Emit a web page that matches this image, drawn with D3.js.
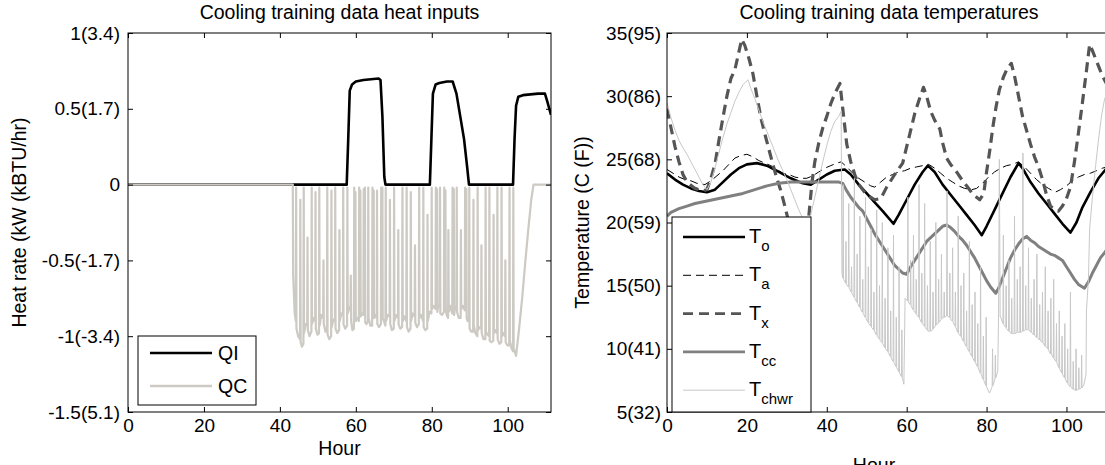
<!DOCTYPE html>
<html>
<head>
<meta charset="utf-8">
<script src="https://cdn.jsdelivr.net/npm/d3@7"></script>
<style>
  body { margin: 0; background: #fff; }
  svg { display: block; }
</style>
</head>
<body>
<svg id="chart" width="1105" height="465"></svg>
<script>
// ---- data ----
const hourTicks = [0, 20, 40, 60, 80, 100];
const heatTicks = [1, 0.5, 0, -0.5, -1, -1.5];
const heatTickLabels = ["1(3.4)", "0.5(1.7)", "0", "-0.5(-1.7)", "-1(-3.4)", "-1.5(5.1)"];
const tempTicks = [35, 30, 25, 20, 15, 10, 5];
const tempTickLabels = ["35(95)", "30(86)", "25(68)", "20(59)", "15(50)", "10(41)", "5(32)"];

// heat inputs, [hour, kW]
const qiData = [
  [0, 0], [57.6, 0], [58.0, 0.3], [58.4, 0.62], [59.0, 0.66], [60, 0.68], [62, 0.69], [64, 0.695],
  [66, 0.7], [66.5, 0.69], [67.0, 0.45], [67.5, 0.05], [67.8, 0], [79.5, 0], [79.9, 0.3], [80.3, 0.6],
  [81.0, 0.66], [82, 0.67], [84, 0.68], [85.5, 0.68], [86.5, 0.6], [87.5, 0.45], [88.5, 0.3],
  [89.3, 0.12], [89.8, 0], [101.4, 0], [101.8, 0.3], [102.2, 0.52], [102.8, 0.58], [104, 0.59],
  [106, 0.595], [108, 0.6], [109.8, 0.6], [110.4, 0.55], [111.4, 0.46]
];
const qcData = [
  [0, 0], [43.4, 0], [43.5, -0.6], [43.9, -0.85],
  [44.2, -0.9], [44.28, -0.02], [44.36, -0.95], [44.8, -1.0], [45.3, -1.02], [45.38, -0.1], [45.46, -1.04],
  [45.8, -1.07], [46.2, -1.05], [46.28, -0.02], [46.36, -0.98], [46.8, -0.92], [47.2, -0.93], [47.28, -0.35],
  [47.36, -0.96], [47.8, -1.0], [48.3, -0.97], [48.38, -0.02], [48.46, -0.92], [48.9, -0.88], [49.3, -0.9],
  [49.38, -0.05], [49.46, -0.95], [49.9, -0.99], [50.3, -0.98], [50.38, -0.02], [50.46, -0.93], [50.9, -0.86],
  [51.4, -0.88], [51.48, -0.5], [51.56, -0.92], [52.0, -0.97], [52.4, -0.95], [52.48, -0.02], [52.56, -0.99],
  [53.0, -1.02], [53.5, -1.0], [53.58, -0.04], [53.66, -0.94], [54.1, -0.89], [54.5, -0.9], [54.58, -0.02],
  [54.66, -0.95], [55.1, -0.98], [55.6, -0.96], [55.68, -0.3], [55.76, -0.9], [56.2, -0.85], [56.6, -0.86],
  [56.68, -0.02], [56.76, -0.92], [57.2, -0.95], [57.7, -0.93], [57.78, -0.02], [57.86, -0.85], [58.2, -0.82],
  [58.6, -0.8], [58.68, -0.6], [58.76, -0.9], [59.1, -0.96], [59.5, -0.95], [59.58, -0.02], [59.75, -0.3],
  [59.9, -0.05], [59.98, -0.9], [60.4, -0.88], [60.8, -0.9], [60.88, -0.02], [61.05, -0.32], [61.2, -0.04],
  [61.28, -0.87], [61.6, -0.85], [62.0, -0.86], [62.08, -0.03], [62.25, -0.3], [62.4, -0.02], [62.48, -0.91],
  [62.8, -0.92], [63.2, -0.9], [63.28, -0.02], [63.36, -0.88], [63.8, -0.93], [64.3, -0.93], [64.38, -0.02],
  [64.55, -0.35], [64.7, -0.04], [64.78, -0.88], [65.1, -0.86], [65.5, -0.88], [65.58, -0.04], [65.66, -0.92],
  [66.1, -0.94], [66.6, -0.92], [66.68, -0.02], [66.85, -0.3], [67.0, -0.02], [67.08, -0.88], [67.4, -0.9],
  [67.8, -0.93], [67.88, -0.02], [67.96, -0.9], [68.4, -0.86], [68.9, -0.87], [68.98, -0.1], [69.06, -0.92],
  [69.5, -0.96], [70.0, -0.95], [70.08, -0.02], [70.16, -0.9], [70.6, -0.86], [71.1, -0.88], [71.18, -0.3],
  [71.26, -0.92], [71.7, -0.95], [72.2, -0.94], [72.28, -0.02], [72.36, -0.9], [72.8, -0.87], [73.3, -0.9],
  [73.38, -0.02], [73.46, -0.94], [73.9, -0.97], [74.4, -0.95], [74.48, -0.05], [74.56, -0.9], [75.0, -0.85],
  [75.5, -0.87], [75.58, -0.4], [75.66, -0.91], [76.1, -0.94], [76.6, -0.92], [76.68, -0.02], [76.76, -0.88],
  [77.2, -0.86], [77.7, -0.9], [77.78, -0.02], [77.86, -0.94], [78.3, -0.96], [78.8, -0.95], [78.88, -0.2],
  [78.96, -0.9], [79.4, -0.84], [79.9, -0.85], [79.98, -0.02], [80.06, -0.82], [80.5, -0.8], [81.0, -0.82],
  [81.08, -0.02], [81.25, -0.3], [81.4, -0.03], [81.48, -0.84], [81.7, -0.8], [82.1, -0.8], [82.18, -0.02],
  [82.26, -0.85], [82.7, -0.86], [83.2, -0.84], [83.28, -0.02], [83.45, -0.3], [83.6, -0.04], [83.68, -0.82],
  [83.9, -0.86], [84.3, -0.88], [84.38, -0.3], [84.46, -0.84], [84.9, -0.8], [85.4, -0.85], [85.48, -0.02],
  [85.65, -0.32], [85.8, -0.03], [85.88, -0.86], [86.1, -0.82], [86.5, -0.8], [86.58, -0.02], [86.66, -0.84],
  [87.1, -0.88], [87.6, -0.88], [87.68, -0.3], [87.76, -0.82], [88.2, -0.8], [88.7, -0.83], [88.78, -0.02],
  [88.95, -0.3], [89.1, -0.03], [89.18, -0.88], [89.4, -0.9], [89.8, -0.9], [89.88, -0.02], [89.96, -0.95],
  [90.4, -0.97], [90.9, -0.97], [90.98, -0.1], [91.06, -0.93], [91.5, -0.98], [92.0, -1.0], [92.08, -0.02],
  [92.16, -0.96], [92.6, -0.94], [93.0, -0.95], [93.08, -0.4], [93.16, -0.98], [93.6, -1.02], [94.1, -1.02],
  [94.18, -0.02], [94.26, -0.97], [94.7, -0.99], [95.1, -1.0], [95.18, -0.02], [95.26, -1.03], [95.7, -1.04],
  [96.2, -1.03], [96.28, -0.2], [96.36, -0.98], [96.8, -0.96], [97.2, -0.98], [97.28, -0.02], [97.36, -1.02],
  [97.8, -1.05], [98.3, -1.04], [98.38, -0.02], [98.46, -1.0], [98.9, -0.98], [99.3, -1.0], [99.38, -0.5],
  [99.46, -1.04], [99.9, -1.06], [100.4, -1.06], [100.48, -0.02], [100.56, -1.03], [101.0, -1.08],
  [101.4, -1.1], [101.48, -0.02], [101.56, -1.08], [102.2, -1.13], [103.0, -0.95], [103.8, -0.75],
  [104.6, -0.52], [105.4, -0.3], [106.2, -0.1], [106.8, 0], [111.4, 0]
];

// temperatures, [hour, degC]
const toData = [
  [0, 23.9], [2, 23.4], [4, 23.0], [6, 22.7], [8, 22.5], [10, 22.4], [12, 22.6], [14, 23.2], [16, 23.8],
  [18, 24.3], [20, 24.6], [22.5, 24.7], [25, 24.5], [28, 24.0], [31, 23.5], [34, 23.1], [36, 23.0],
  [38, 23.4], [40, 23.8], [42, 24.1], [44.5, 24.2], [46, 23.8], [48, 23.0], [50, 22.3], [52, 21.6],
  [54, 20.9], [56.7, 19.9], [58, 20.6], [60, 21.8], [62, 23.0], [64, 24.0], [65.3, 24.5], [67, 24.0],
  [69, 23.0], [71, 22.2], [73, 21.4], [75, 20.6], [77, 19.8], [78.8, 19.0], [80, 19.7], [82, 21.0],
  [84, 22.3], [86, 23.6], [88, 24.7], [89, 24.3], [91, 23.2], [93, 22.3], [95, 21.5], [97, 20.7],
  [99, 19.9], [101, 19.2], [102.5, 20.0], [104, 21.2], [106, 22.4], [108, 23.5], [111.4, 24.8]
];
const taData = [
  [0, 24.2], [1.5, 23.9], [3, 23.6], [4.5, 23.4], [6, 23.3], [7.5, 23.1], [9.5, 23.0], [11, 23.3],
  [12.5, 23.7], [14, 24.1], [15.5, 24.6], [17, 25.1], [18.5, 25.3], [20, 25.4], [21.5, 25.2], [23, 24.9],
  [24.5, 24.7], [26, 24.5], [27.5, 24.2], [29, 23.9], [30.5, 23.8], [32, 23.6], [33.5, 23.5], [35, 23.5],
  [36.5, 23.7], [38, 24.0], [39.5, 24.3], [41, 24.5], [42.5, 24.7], [43.6, 24.8], [45, 24.4], [46.5, 23.9],
  [48, 23.5], [49.5, 23.2], [51, 22.9], [52, 22.8], [53.5, 23.2], [55, 23.6], [56.5, 23.8], [58, 24.0],
  [59.5, 24.1], [61, 24.3], [62.5, 24.4], [64, 24.5], [65.5, 24.6], [67, 24.3], [68.5, 23.9], [70, 23.5],
  [71.5, 23.2], [73, 22.9], [74.5, 22.7], [76.3, 22.6], [77.5, 22.7], [79, 23.1], [80.5, 23.6], [82, 24.0],
  [83.5, 24.3], [85, 24.5], [86.5, 24.6], [88, 24.8], [89.5, 24.4], [91, 23.9], [92.5, 23.4], [94, 23.0],
  [95.5, 22.7], [97.2, 22.4], [98.5, 22.6], [100, 22.9], [101.5, 23.3], [103, 23.6], [104.5, 23.8],
  [106, 23.9], [107.5, 24.1], [109, 24.3], [111.4, 24.5]
];
const txData = [
  [0, 29.0], [1, 27.5], [2, 26.0], [3, 24.8], [4, 23.8], [5, 23.2], [7, 22.7], [9, 22.5], [10, 22.6],
  [11, 23.5], [12, 24.6], [13, 26.5], [14, 28.3], [15, 30.0], [16, 31.4], [17, 32.1], [18, 33.5],
  [18.7, 34.5], [19.5, 34.0], [20.5, 33.0], [21.5, 31.8], [22.5, 30.0], [23.5, 28.3], [24.5, 27.0],
  [25.5, 25.8], [26.5, 24.6], [27.5, 23.5], [28.5, 22.5], [29.5, 21.3], [30.5, 20.0], [31.5, 18.5],
  [32.5, 17.8], [33.5, 17.8], [34.5, 18.5], [35.3, 19.8], [35.8, 21.5], [36.3, 23.2], [37, 24.8],
  [38, 26.3], [39, 27.5], [40, 28.4], [41, 29.4], [42, 30.2], [43.3, 31.0], [44, 29.0], [45, 26.2],
  [46, 24.8], [47, 23.8], [48, 23.0], [50, 22.2], [52, 21.8], [53.5, 21.9], [55, 22.8], [57, 23.8],
  [59, 24.7], [60, 26.0], [61, 27.3], [62, 28.6], [63, 29.6], [64.2, 30.7], [65, 30.0], [66, 28.8],
  [67, 28.1], [68.3, 27.4], [69, 26.3], [70, 25.1], [71, 24.6], [72.5, 24.0], [74, 23.3], [75, 22.9],
  [76.7, 22.2], [78.3, 21.8], [79.3, 22.3], [80, 24.0], [80.8, 25.7], [81.6, 27.6], [82.4, 29.2],
  [83.2, 30.5], [84.2, 31.5], [85.2, 32.2], [86.2, 32.6], [87, 31.6], [88, 30.0], [89, 28.4], [90, 27.3],
  [91, 26.2], [92, 25.2], [93, 24.4], [94, 23.4], [95, 22.2], [96, 21.3], [97, 21.0], [98, 20.9],
  [99, 21.3], [100, 21.9], [101, 22.8], [102, 24.8], [103, 27.1], [104, 29.5], [105, 32.0], [105.8, 34.1],
  [106.5, 33.6], [107.5, 32.8], [108.5, 32.0], [109.5, 31.3], [111.4, 30.2]
];
const tccData = [
  [0, 20.5], [1, 20.8], [3, 21.1], [5, 21.3], [7, 21.5], [10, 21.7], [13, 21.9], [16, 22.1], [19, 22.3],
  [22, 22.6], [25, 22.9], [28, 23.1], [31, 23.2], [34, 23.2], [37, 23.2], [40, 23.2], [43, 23.2],
  [44, 23.1], [45, 22.5], [46, 22.0], [47, 21.6], [48, 21.2], [49, 20.9], [50, 20.3], [51, 19.7],
  [52, 19.1], [53, 18.6], [54, 18.1], [55, 17.6], [56, 17.1], [57, 16.6], [58, 16.3], [59, 16.0],
  [60, 15.9], [61, 16.5], [62, 17.0], [63, 17.5], [64, 18.0], [65, 18.5], [66, 18.8], [67, 19.1],
  [68, 19.4], [69, 19.7], [70, 19.8], [71, 19.6], [72, 19.3], [73, 18.9], [74, 18.6], [75, 18.2],
  [76, 17.7], [77, 17.2], [78, 16.6], [79, 16.0], [80, 15.4], [81, 14.9], [82.3, 14.4], [83, 14.8],
  [84, 15.6], [85, 16.4], [86, 17.2], [87, 17.8], [88, 18.3], [89, 18.7], [90, 18.9], [91, 18.6],
  [92, 18.4], [93, 18.1], [94, 17.9], [95, 17.7], [96, 17.5], [97, 17.4], [98, 17.2], [99, 17.0],
  [100, 16.5], [101, 16.0], [102, 15.5], [103, 15.1], [104.5, 14.8], [105.5, 15.3], [106.5, 16.0],
  [107.5, 16.6], [108.5, 17.2], [109.5, 17.6], [111.4, 18.4]
];
const tchwrData = [
  [0, 29.5], [1, 28.3], [2, 27.3], [3, 26.5], [4, 25.9], [5, 25.4], [6, 24.8], [7, 24.2], [8, 23.6],
  [9, 23.0], [10, 22.6], [11, 23.2], [12, 24.3], [13, 25.5], [14, 26.7], [15, 27.8], [16, 28.7],
  [17, 29.6], [18, 30.3], [19, 30.9], [20.3, 31.3], [21, 30.6], [22, 29.8], [23, 28.9], [24, 28.0],
  [25, 27.2], [26, 26.4], [27, 25.6], [28, 24.8], [29, 24.1], [30, 23.4], [31, 22.6], [32, 21.8],
  [33, 21.0], [34, 20.3], [35, 19.6], [36, 20.6], [37, 22.0], [38, 23.4], [39, 24.8], [40, 26.1],
  [41, 27.2], [42, 28.0], [43, 28.4], [43.6, 28.8], [43.8, 16.0],
  [44.0, 15.6], [44.1, 23.0], [44.2, 15.5], [44.7, 15.2], [44.8, 18.5], [44.9, 15.1], [45.4, 14.9],
  [45.5, 21.5], [45.6, 14.8], [46.1, 14.5], [46.2, 16.5], [46.3, 14.4], [46.8, 14.1], [46.9, 23.5],
  [47.0, 14.0], [47.5, 13.7], [47.6, 17.5], [47.7, 13.6], [48.2, 13.3], [48.3, 20.5], [48.4, 13.2],
  [48.9, 12.9], [49.0, 15.5], [49.1, 12.8], [49.6, 12.5], [49.7, 22.0], [49.8, 12.4], [50.3, 12.1],
  [50.4, 16.5], [50.5, 12.0], [51.0, 11.8], [51.1, 19.5], [51.2, 11.7], [51.7, 11.5], [51.8, 14.5],
  [51.9, 11.4], [52.4, 11.1], [52.5, 21.0], [52.6, 11.0], [53.1, 10.8], [53.2, 15.0], [53.3, 10.7],
  [53.8, 10.5], [53.9, 20.0], [54.0, 10.4], [54.5, 10.1], [54.6, 14.0], [54.7, 10.0], [55.2, 9.8],
  [55.3, 18.0], [55.4, 9.7], [55.9, 9.4], [56.0, 13.0], [56.1, 9.3], [56.6, 9.0], [56.7, 19.0],
  [56.8, 8.9], [57.3, 8.6], [57.4, 12.5], [57.5, 8.5], [58.0, 8.2], [58.1, 16.5], [58.2, 8.1],
  [58.7, 7.8], [58.8, 11.5], [58.9, 7.7], [59.3, 7.2], [59.6, 14.0],
  [60.2, 13.8], [60.3, 22.0], [60.4, 13.7], [60.9, 13.5], [61.0, 17.0], [61.1, 13.4], [61.6, 13.1],
  [61.7, 19.0], [61.8, 13.0], [62.3, 12.8], [62.4, 15.5], [62.5, 12.7], [63.0, 12.5], [63.1, 23.0],
  [63.2, 12.4], [63.7, 12.1], [63.8, 16.0], [63.9, 12.0], [64.4, 11.8], [64.5, 21.5], [64.6, 11.7],
  [65.1, 11.5], [65.2, 15.0], [65.3, 11.4], [65.8, 11.4], [65.9, 18.5], [66.0, 11.4], [66.5, 11.5],
  [66.6, 14.5], [66.7, 11.6], [67.2, 11.8], [67.3, 20.0], [67.4, 11.9], [67.9, 12.0], [68.0, 15.5],
  [68.1, 12.1], [68.6, 12.3], [68.7, 17.5], [68.8, 12.4], [69.3, 12.5], [69.4, 14.5], [69.5, 12.5],
  [70.0, 12.6], [70.1, 22.5], [70.2, 12.6], [70.7, 12.5], [70.8, 16.0], [70.9, 12.4], [71.4, 12.2],
  [71.5, 18.0], [71.6, 12.1], [72.1, 11.8], [72.2, 14.5], [72.3, 11.7], [72.8, 11.3], [72.9, 20.5],
  [73.0, 11.2], [73.5, 11.0], [73.6, 15.0], [73.7, 10.9], [74.2, 10.6], [74.3, 16.0], [74.4, 10.5],
  [74.9, 10.2], [75.0, 13.0], [75.1, 10.1], [75.6, 9.8], [75.7, 18.5], [75.8, 9.7], [76.3, 9.4],
  [76.4, 13.5], [76.5, 9.3], [77.0, 9.0], [77.1, 14.5], [77.2, 8.9], [77.7, 8.6], [77.8, 12.0],
  [77.9, 8.5], [78.4, 8.1], [78.5, 16.5], [78.6, 8.0], [79.1, 7.6], [79.2, 11.0], [79.3, 7.5],
  [79.8, 7.1], [79.9, 12.5], [80.0, 7.0], [80.7, 6.5], [81.4, 7.0], [81.5, 10.0], [81.6, 7.1],
  [82.1, 7.6], [82.2, 9.5], [82.3, 7.7], [82.8, 8.2], [83.0, 12.8], [83.2, 25.0], [83.4, 12.6],
  [84.1, 12.0], [84.2, 19.0], [84.3, 11.9], [84.8, 11.7], [84.9, 15.0], [85.0, 11.6], [85.5, 11.4],
  [85.6, 17.0], [85.7, 11.4], [86.2, 11.2], [86.3, 14.0], [86.4, 11.2], [86.9, 11.2], [87.0, 20.5],
  [87.1, 11.2], [87.6, 11.3], [87.7, 15.5], [87.8, 11.3], [88.3, 11.3], [88.4, 16.5], [88.5, 11.3],
  [89.0, 11.4], [89.1, 25.5], [89.2, 11.4], [89.7, 11.5], [89.8, 15.0], [89.9, 11.5], [90.4, 11.5],
  [90.5, 18.0], [90.6, 11.5], [91.1, 11.3], [91.2, 14.0], [91.3, 11.3], [91.8, 11.1], [91.9, 15.5],
  [92.0, 11.1], [92.5, 10.9], [92.6, 17.5], [92.7, 10.9], [93.2, 10.7], [93.3, 13.5], [93.4, 10.7],
  [93.9, 10.5], [94.0, 14.5], [94.1, 10.5], [94.6, 10.2], [94.7, 16.5], [94.8, 10.2], [95.3, 10.0],
  [95.4, 13.0], [95.5, 9.9], [96.0, 9.6], [96.1, 14.0], [96.2, 9.6], [96.7, 9.3], [96.8, 15.5],
  [96.9, 9.2], [97.4, 9.0], [97.5, 12.0], [97.6, 8.9], [98.1, 8.5], [98.2, 13.0], [98.3, 8.4],
  [98.8, 8.1], [98.9, 11.0], [99.0, 8.0], [99.5, 7.7], [99.6, 12.0], [99.7, 7.6], [100.2, 7.3],
  [100.3, 10.0], [100.4, 7.2], [100.9, 7.0], [101.0, 14.5], [101.1, 7.0], [101.6, 6.8], [101.7, 9.0],
  [101.8, 6.8], [102.3, 6.7], [102.4, 10.0], [102.5, 6.7], [103.0, 6.8], [103.1, 8.5], [103.2, 6.8],
  [103.7, 6.9], [103.8, 9.5], [103.9, 6.9], [104.4, 7.2], [104.9, 8.0], [105.0, 13.0], [105.5, 15.5],
  [105.8, 19.5], [106.5, 22.0], [107.3, 24.5], [108.0, 26.5], [108.8, 28.5], [109.5, 29.7],
  [110.3, 30.5], [111.4, 31.2]
];

// ---- layout ----
const chartArea = d3.select("svg#chart");
const fontFamily = '"Liberation Sans", Arial, Helvetica, sans-serif';
const tickFont = 19;
const labelFont = 19.5;
const defs = chartArea.append("defs");

const heatX = d3.scaleLinear().domain([0, 111.4]).range([128, 551]);
const heatY = d3.scaleLinear().domain([-1.5, 1]).range([412, 33]);
const tempX = d3.scaleLinear().domain([0, 111.4]).range([667, 1112]);
const tempY = d3.scaleLinear().domain([5, 35]).range([412, 33]);

const heatSeries = [
  { label: "QI", data: qiData, color: "#000000", width: 2.6, dash: null },
  { label: "QC", data: qcData, color: "#cdc9c3", width: 2.2, dash: null },
];
const tempSeries = [
  { sub: "o", data: toData, color: "#000000", width: 2.6, dash: null },
  { sub: "a", data: taData, color: "#000000", width: 1, dash: "8,5" },
  { sub: "x", data: txData, color: "#555555", width: 3.2, dash: "10,6" },
  { sub: "cc", data: tccData, color: "#808080", width: 3, dash: null },
  { sub: "chwr", data: tchwrData, color: "#c8c8c8", width: 1, dash: null },
];

function drawLines(id, x, y, series) {
  const [x0, x1] = x.range();
  const [yb, yt] = y.range();
  defs.append("clipPath").attr("id", `${id}-clip`)
    .append("rect")
    .attr("x", x0).attr("y", yt)
    .attr("width", x1 - x0).attr("height", yb - yt);

  const line = d3.line().x((d) => x(d[0])).y((d) => y(d[1]));
  chartArea.append("g")
    .attr("clip-path", `url(#${id}-clip)`)
    .selectAll("path")
    .data(series)
    .join("path")
    .attr("d", (s) => line(s.data))
    .attr("fill", "none")
    .attr("stroke", (s) => s.color)
    .attr("stroke-width", (s) => s.width)
    .attr("stroke-dasharray", (s) => s.dash)
    .attr("stroke-linejoin", "round");
}

function drawFrame(x, y, yTicks, yLabels, yPad) {
  const [x0, x1] = x.range();
  const [yb, yt] = y.range();
  const axes = chartArea.append("g");
  axes.append("g")
    .attr("transform", `translate(0,${yb})`)
    .call(d3.axisBottom(x).tickValues(hourTicks).tickSizeInner(-5).tickSizeOuter(0).tickPadding(7).tickFormat(d3.format("d")));
  axes.append("g")
    .attr("transform", `translate(0,${yt})`)
    .call(d3.axisTop(x).tickValues(hourTicks).tickSizeInner(-5).tickSizeOuter(0).tickFormat(""));
  axes.append("g")
    .attr("transform", `translate(${x0},0)`)
    .call(d3.axisLeft(y).tickValues(yTicks).tickSizeInner(-5).tickSizeOuter(0).tickPadding(yPad)
      .tickFormat((d, i) => yLabels[i]));
  axes.append("g")
    .attr("transform", `translate(${x1},0)`)
    .call(d3.axisRight(y).tickValues(yTicks).tickSizeInner(-5).tickSizeOuter(0).tickFormat(""));
  axes.selectAll(".domain").remove();
  axes.selectAll(".tick line").attr("stroke", "#000");
  axes.selectAll("text")
    .attr("font-family", fontFamily)
    .attr("font-size", tickFont)
    .attr("fill", "#000");
  axes.append("rect")
    .attr("x", x0).attr("y", yt)
    .attr("width", x1 - x0).attr("height", yb - yt)
    .attr("fill", "none")
    .attr("stroke", "#000")
    .attr("stroke-width", 1);
}

function addText(x, y, str, rotate) {
  return chartArea.append("text")
    .attr("x", x).attr("y", y)
    .attr("text-anchor", "middle")
    .attr("font-family", fontFamily)
    .attr("font-size", labelFont)
    .attr("fill", "#000")
    .attr("transform", rotate ? `rotate(-90,${x},${y})` : null)
    .text(str);
}

// ---- left panel: heat inputs ----
drawLines("heat", heatX, heatY, heatSeries);
drawFrame(heatX, heatY, heatTicks, heatTickLabels, 8);
addText(339.5, 19, "Cooling training data heat inputs");
addText(339.5, 455, "Hour");
addText(26, 222.5, "Heat rate (kW (kBTU/hr)", true);

const heatLegend = chartArea.append("g");
heatLegend.append("rect")
  .attr("x", 138).attr("y", 336).attr("width", 118).attr("height", 69)
  .attr("fill", "#fff").attr("stroke", "#000");
heatSeries.forEach((s, i) => {
  const ly = 353 + i * 33;
  heatLegend.append("line")
    .attr("x1", 150).attr("x2", 212).attr("y1", ly).attr("y2", ly)
    .attr("stroke", s.color).attr("stroke-width", 2.6);
  heatLegend.append("text")
    .attr("x", 218).attr("y", ly)
    .attr("dominant-baseline", "central")
    .attr("font-family", fontFamily).attr("font-size", labelFont)
    .text(s.label);
});

// ---- right panel: temperatures ----
drawLines("temp", tempX, tempY, tempSeries);
drawFrame(tempX, tempY, tempTicks, tempTickLabels, 6);
addText(889, 19, "Cooling training data temperatures");
addText(874, 472, "Hour");
addText(589, 222.5, "Temperature (C (F))", true);

const tempLegend = chartArea.append("g");
tempLegend.append("rect")
  .attr("x", 672).attr("y", 217).attr("width", 139).attr("height", 195)
  .attr("fill", "#fff").attr("stroke", "#000");
tempSeries.forEach((s, i) => {
  const ly = 237 + i * 38.3;
  tempLegend.append("line")
    .attr("x1", 683).attr("x2", 745).attr("y1", ly).attr("y2", ly)
    .attr("stroke", s.color)
    .attr("stroke-width", Math.min(s.width, 2.6))
    .attr("stroke-dasharray", s.dash);
  const t = tempLegend.append("text")
    .attr("x", 749).attr("y", ly + 6)
    .attr("font-family", fontFamily).attr("font-size", 20);
  t.append("tspan").text("T");
  t.append("tspan").attr("dy", 8).attr("font-size", 15).text(s.sub);
});
</script>
</body>
</html>
